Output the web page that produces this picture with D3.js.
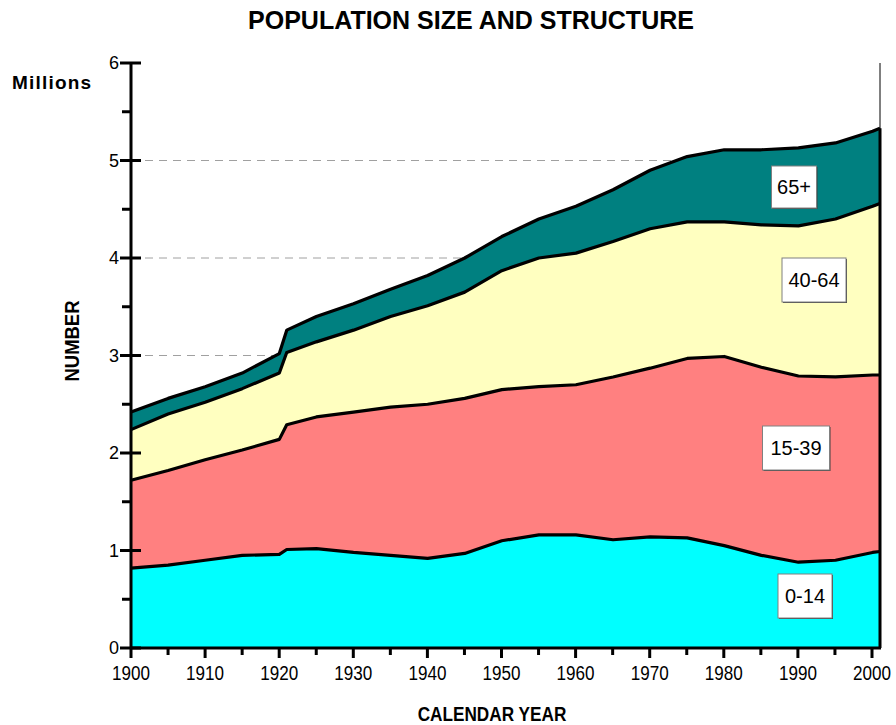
<!DOCTYPE html>
<html><head><meta charset="utf-8">
<script src="https://cdn.jsdelivr.net/npm/d3@7"></script>
<style>body{margin:0;background:#fff}svg{display:block}text{font-family:"Liberation Sans",Arial,sans-serif}</style>
</head><body><svg id="c" width="896" height="725"></svg>
<script>
const years     = [1900,1905,1910,1915,1920,1921,1925,1930,1935,1940,1945,1950,1955,1960,1965,1970,1975,1980,1985,1990,1995,2000,2001];
const age0_14   = [0.82,0.85,0.90,0.95,0.96,1.01,1.02,0.98,0.95,0.92,0.97,1.10,1.16,1.16,1.11,1.14,1.13,1.05,0.95,0.88,0.90,0.98,0.99];
const age15_39  = [0.90,0.97,1.03,1.08,1.18,1.28,1.35,1.44,1.52,1.58,1.59,1.55,1.52,1.54,1.67,1.73,1.84,1.94,1.93,1.91,1.88,1.82,1.81];
const age40_64  = [0.52,0.58,0.59,0.63,0.68,0.74,0.77,0.84,0.93,1.01,1.09,1.22,1.32,1.35,1.39,1.43,1.40,1.38,1.46,1.54,1.62,1.73,1.76];
const age65plus = [0.18,0.16,0.16,0.16,0.20,0.23,0.26,0.27,0.28,0.31,0.35,0.35,0.40,0.48,0.53,0.60,0.67,0.74,0.77,0.80,0.78,0.77,0.77];
const groups = ["0-14","15-39","40-64","65+"];
const colors = ["#00FFFF","#FF8080","#FFFFC0","#008080"];
const yTicks = [0,1,2,3,4,5,6];
const xTicks = [1900,1910,1920,1930,1940,1950,1960,1970,1980,1990,2000];

const series = [age0_14, age15_39, age40_64, age65plus];
const rows = years.map((y,i)=>{const r={year:y}; groups.forEach((g,k)=>r[g]=series[k][i]); return r;});

const L=131, R=880, T=63, B=648;
const x = d3.scaleLinear().domain([1900,2001]).range([L,R]);
const x2000 = d3.scaleLinear().domain([1900,2000]).range([L,872]);
const y = d3.scaleLinear().domain([0,6]).range([B,T]);
const svg = d3.select("#c");

// gridlines
svg.append("g").selectAll("line").data(yTicks.filter(v=>v>0&&v<6)).join("line")
  .attr("x1",L).attr("x2",R).attr("y1",d=>y(d)).attr("y2",d=>y(d))
  .attr("stroke","#a0a0a0").attr("stroke-width",1).attr("stroke-dasharray","8,6");

// right border
svg.append("line").attr("x1",R).attr("x2",R).attr("y1",T).attr("y2",B).attr("stroke","#000").attr("stroke-width",1);

const stack = d3.stack().keys(groups)(rows);
const area = d3.area().x(d=>x(d.data.year)).y0(d=>y(d[0])).y1(d=>y(d[1]));
svg.append("g").selectAll("path").data(stack).join("path")
  .attr("d",area).attr("fill",(d,i)=>colors[i]).attr("stroke","none");
const line = d3.line().x(d=>x(d.data.year)).y(d=>y(d[1]));
svg.append("g").selectAll("path").data(stack).join("path")
  .attr("d",line).attr("fill","none").attr("stroke","#000").attr("stroke-width",3.2).attr("stroke-linejoin","round");
svg.append("line").attr("x1",R).attr("x2",R).attr("y1",y(stack[3][stack[3].length-1][1])).attr("y2",B)
  .attr("stroke","#000").attr("stroke-width",3);

// y axis
const ya = svg.append("g");
ya.append("line").attr("x1",L).attr("x2",L).attr("y1",T).attr("y2",B+1).attr("stroke","#000").attr("stroke-width",3);
ya.selectAll(".mj").data(yTicks).join("line").attr("x1",L-11).attr("x2",L+10).attr("y1",d=>y(d)).attr("y2",d=>y(d)).attr("stroke","#000").attr("stroke-width",3);
ya.selectAll(".mn").data(d3.range(0.5,6,1)).join("line").attr("x1",L-9).attr("x2",L).attr("y1",d=>y(d)).attr("y2",d=>y(d)).attr("stroke","#000").attr("stroke-width",3);
ya.selectAll("text").data(yTicks).join("text").attr("x",L-12).attr("y",d=>y(d)+6).attr("text-anchor","end")
  .attr("font-size",18).text(d=>d);

// x axis
const xa = svg.append("g");
xa.append("line").attr("x1",L-1).attr("x2",R+1).attr("y1",B).attr("y2",B).attr("stroke","#000").attr("stroke-width",3);
xa.selectAll(".mj").data(xTicks).join("line").attr("x1",d=>x2000(d)).attr("x2",d=>x2000(d)).attr("y1",B).attr("y2",B+10).attr("stroke","#000").attr("stroke-width",3);
xa.selectAll(".mn").data(d3.range(1905,2000,10)).join("line").attr("x1",d=>x2000(d)).attr("x2",d=>x2000(d)).attr("y1",B).attr("y2",B+7).attr("stroke","#000").attr("stroke-width",3);
xa.selectAll("text").data(xTicks).join("text").attr("text-anchor","middle")
  .attr("transform",d=>`translate(${x2000(d)},${B+32}) scale(0.9,1.05)`).attr("font-size",19).text(d=>d);

// titles
svg.append("text").attr("x",471).attr("y",29).attr("text-anchor","middle").attr("font-size",25).attr("font-weight","bold").text("POPULATION SIZE AND STRUCTURE");
svg.append("text").attr("x",12).attr("y",89).attr("font-size",19).attr("font-weight","bold").attr("letter-spacing",1.2).text("Millions");
svg.append("text").attr("transform","translate(79,341) rotate(-90) scale(0.88,1)").attr("text-anchor","middle").attr("font-size",21).attr("font-weight","bold").text("NUMBER");
svg.append("text").attr("transform","translate(492,721) scale(0.86,1)").attr("text-anchor","middle").attr("font-size",20).attr("font-weight","bold").text("CALENDAR YEAR");

// series labels
const labels = [
  {t:"65+",  cx:794, cy:187, w:45, h:42},
  {t:"40-64",cx:814, cy:280, w:64, h:44},
  {t:"15-39",cx:796, cy:448, w:67, h:44},
  {t:"0-14", cx:805, cy:596, w:54, h:44}
];
const lg = svg.append("g").selectAll("g").data(labels).join("g");
lg.append("rect").attr("x",d=>d.cx-d.w/2+1).attr("y",d=>d.cy-d.h/2+1).attr("width",d=>d.w).attr("height",d=>d.h).attr("fill","#404040");
lg.append("rect").attr("x",d=>d.cx-d.w/2).attr("y",d=>d.cy-d.h/2).attr("width",d=>d.w).attr("height",d=>d.h).attr("fill","#fff").attr("stroke","#808080").attr("stroke-width",1);
lg.append("text").attr("x",d=>d.cx).attr("y",d=>d.cy+7).attr("text-anchor","middle").attr("font-size",20).text(d=>d.t);
</script></body></html>
